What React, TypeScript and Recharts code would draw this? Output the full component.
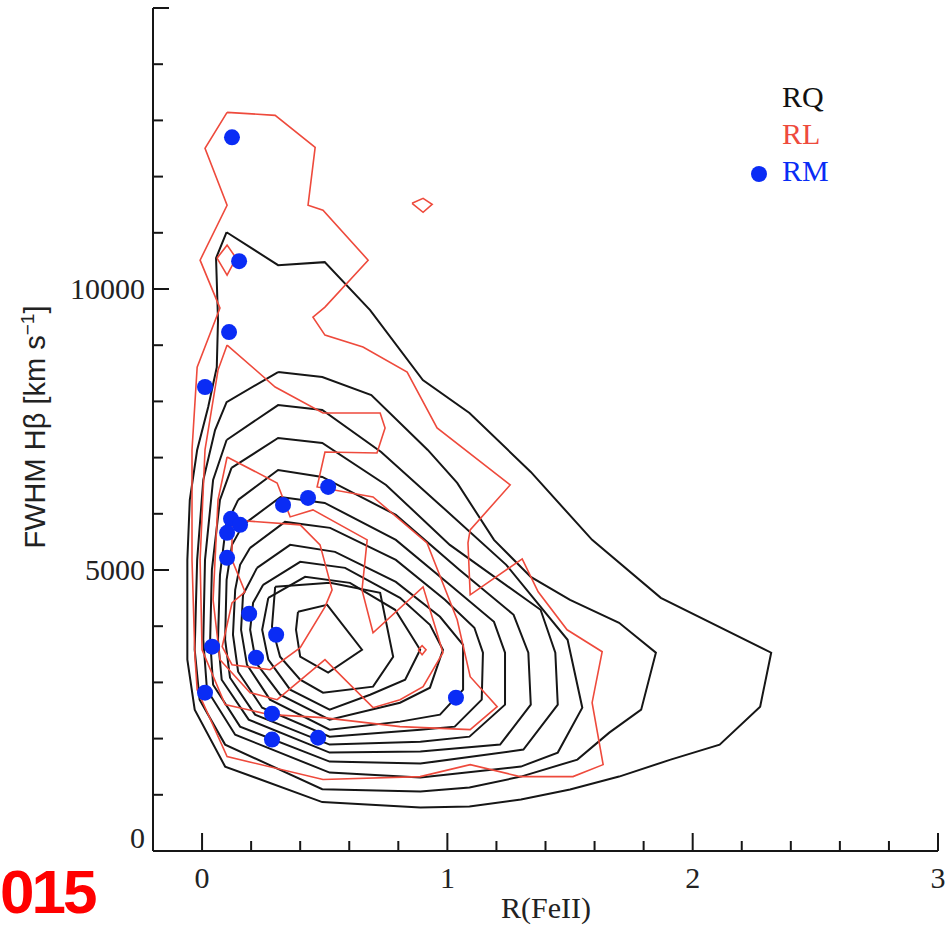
import { ScatterChart, Scatter, XAxis, YAxis } from 'recharts'

// tick positions
const xTicks = [0, 0.2, 0.4, 0.6, 0.8, 1, 1.2, 1.4, 1.6, 1.8, 2, 2.2, 2.4, 2.6, 2.8, 3]
const yTicks = [0, 1000, 2000, 3000, 4000, 5000, 6000, 7000, 8000, 9000, 10000, 11000, 12000, 13000, 14000, 15000]

// RQ density contours, outermost first: [R(FeII), FWHM]
const rq1 = [[0.10,11010],[0.31,10424],[0.50,10478],[0.685,9624],[0.90,8380],[1.09,7793],[1.34,6745],[1.59,5536],[1.87,4505],[2.32,3528],[2.275,2568],[2.11,1893],[1.91,1626],[1.70,1324],[1.50,1093],[1.30,915],[1.09,791],[0.89,773],[0.49,870],[0.094,1502],[-0.03,2515],[-0.06,3404],[-0.06,5180],[-0.05,6247],[-0.02,7136],[0.025,7900],[0.06,8610],[0.065,9447],[0.057,10550],[0.10,11010]]
const rq2 = [[0.31,8522],[0.49,8433],[0.69,8113],[0.92,7136],[1.04,6549],[1.19,5536],[1.34,4878],[1.50,4469],[1.70,4060],[1.85,3528],[1.79,2515],[1.66,2106],[1.53,1626],[1.30,1324],[1.09,1129],[0.89,1057],[0.49,1100],[0.094,1893],[-0.01,2693],[-0.03,3581],[-0.02,5180],[0.005,6602],[0.053,7491],[0.10,7988],[0.31,8522]]
const rq3 = [[0.10,7314],[0.31,7935],[0.49,7846],[0.73,7100],[0.97,6158],[1.24,5092],[1.49,3759],[1.55,2550],[1.45,1751],[1.30,1502],[0.89,1306],[0.52,1395],[0.135,2070],[0.02,2870],[0.005,3759],[0.012,5180],[0.045,6602],[0.10,7314]]
const rq4 = [[0.12,6816],[0.31,7349],[0.49,7260],[0.75,6513],[1.01,5447],[1.38,4292],[1.44,3528],[1.45,2604],[1.31,1804],[0.89,1555],[0.52,1591],[0.155,2213],[0.045,2959],[0.033,3759],[0.04,5002],[0.073,6247],[0.12,6816]]
const rq5 = [[0.147,6247],[0.31,6780],[0.49,6656],[0.79,5980],[1.05,5002],[1.27,4203],[1.33,3528],[1.34,2604],[1.215,1893],[0.89,1769],[0.52,1751],[0.19,2337],[0.08,3048],[0.065,3759],[0.073,4914],[0.098,5803],[0.147,6247]]
const rq6 = [[0.167,5803],[0.32,6300],[0.50,6194],[0.79,5536],[1.01,4736],[1.19,4078],[1.235,3528],[1.235,2604],[1.09,2035],[0.89,1946],[0.52,1893],[0.216,2426],[0.114,3083],[0.094,3759],[0.10,4825],[0.122,5447],[0.167,5803]]
const rq7 = [[0.196,5394],[0.338,5856],[0.522,5750],[0.79,5180],[0.99,4469],[1.11,3972],[1.145,3528],[1.14,2693],[1.03,2213],[0.89,2159],[0.52,2035],[0.245,2550],[0.147,3190],[0.126,3848],[0.135,4647],[0.155,5092],[0.196,5394]]
const rq8 = [[0.224,5038],[0.359,5447],[0.542,5323],[0.79,4789],[0.97,4167],[1.064,3670],[1.064,2870],[0.97,2426],[0.807,2302],[0.52,2159],[0.277,2693],[0.183,3315],[0.159,3936],[0.167,4558],[0.224,5038]]
const rq9 = [[0.249,4736],[0.40,5145],[0.583,5038],[0.807,4505],[0.929,4025],[0.982,3581],[0.929,2906],[0.807,2639],[0.52,2337],[0.318,2781],[0.22,3350],[0.196,3936],[0.208,4416],[0.249,4736]]
const rq10 = [[0.27,4505],[0.42,4878],[0.603,4771],[0.787,4292],[0.889,3581],[0.828,3048],[0.685,2781],[0.52,2515],[0.359,2870],[0.27,3404],[0.245,3936],[0.27,4505]]
const rq11 = [[0.298,4701],[0.522,4772],[0.726,4594],[0.779,3457],[0.697,2924],[0.493,2817],[0.40,3048],[0.318,3457],[0.285,3990],[0.298,4701]]
const rq12 = [[0.391,4256],[0.51,4380],[0.652,3581],[0.514,3173],[0.40,3457],[0.383,3936],[0.391,4256]]

// RL density contours
const rl1 = [[0.102,13143],[0.298,13090],[0.461,12521],[0.432,11490],[0.493,11401],[0.677,10513],[0.501,9677],[0.452,9500],[0.501,9180],[0.656,8967],[0.836,8522],[0.958,7527],[1.256,6513],[1.093,5713],[1.084,5482],[1.093,4558],[1.305,5198],[1.37,4612],[1.488,3936],[1.631,3546],[1.59,2639],[1.635,1537],[1.512,1324],[1.296,1324],[1.093,1537],[0.889,1324],[0.493,1271],[0.102,1680],[-0.02,2870],[-0.029,3457],[-0.041,5180],[-0.041,7136],[-0.02,8610],[0.073,9660],[-0.008,10513],[0.102,11490],[0.012,12503],[0.102,13143]]
const rl2 = [[0.102,9002],[0.298,8256],[0.493,7793],[0.726,7793],[0.746,7527],[0.713,7082],[0.501,7100],[0.469,6478],[0.697,6300],[0.917,5482],[1.04,4114],[1.093,3101],[1.203,2568],[1.093,2159],[0.807,2213],[0.493,2373],[0.277,2426],[0.094,2604],[0.0,3581],[-0.008,5180],[0.012,7136],[0.065,8557],[0.102,9002]]
const rl3 = [[0.102,7011],[0.306,6549],[0.359,5945],[0.452,6069],[0.673,5536],[0.652,4647],[0.697,3883],[0.901,4700],[0.982,3528],[0.901,2924],[0.807,2693],[0.697,2550],[0.501,3404],[0.306,2693],[0.196,2817],[0.073,3404],[0.045,4469],[0.065,6247],[0.102,7011]]
const rl4 = [[0.122,5891],[0.40,5803],[0.481,5447],[0.53,4647],[0.501,4345],[0.40,3617],[0.277,3226],[0.122,3315],[0.082,3635],[0.122,4416],[0.175,4612],[0.122,5180],[0.122,5891]]
const rlIsle1 = [[0.061,10549],[0.102,10780],[0.139,10549],[0.102,10247],[0.061,10549]]
const rlIsle2 = [[0.856,11525],[0.901,11614],[0.938,11507],[0.901,11365],[0.856,11525]]
const rlIsle3 = [[0.881,3581],[0.897,3653],[0.913,3581],[0.897,3493],[0.881,3581]]

// reverberation-mapped AGN
const rmX = [0.122, 0.151, 0.110, 0.012, 0.514, 0.432, 0.330, 0.118, 0.155, 0.102, 0.102, 0.192, 0.302, 0.041, 0.220, 0.012, 1.035, 0.285, 0.285, 0.473]
const rmY = [12699, 10495, 9233, 8256, 6478, 6283, 6158, 5910, 5803, 5661, 5216, 4221, 3848, 3635, 3439, 2817, 2728, 2444, 1982, 2017]

const rqLevels = [rq1, rq2, rq3, rq4, rq5, rq6, rq7, rq8, rq9, rq10, rq11, rq12]
const rlLevels = [rl1, rl2, rl3, rl4, rlIsle1, rlIsle2, rlIsle3]

const toPts = (arr: number[][]) => arr.map(([x, y]) => ({ x, y }))
const rmPts = rmX.map((x, i) => ({ x, y: rmY[i] }))

const BLACK = '#161616'
const RED = '#ee4a3c'
const BLUE = '#0a2cf5'
const SERIF = '"Liberation Serif", "DejaVu Serif", serif'
const SANS = '"Liberation Sans", Arial, sans-serif'

const noDot = () => <g />

function BottomTick({ x, y, payload }: any) {
  const v = payload.value
  const major = Math.abs(v - Math.round(v)) < 1e-6
  return (
    <g>
      <line x1={x} y1={y} x2={x} y2={y - (major ? 18 : 10)} stroke={BLACK} strokeWidth={2} />
      {major && (
        <text x={x} y={y + 37} textAnchor="middle" fontFamily={SERIF} fontSize={30} fill="#222">
          {v}
        </text>
      )}
    </g>
  )
}

function TopTick({ x, y, payload }: any) {
  const v = payload.value
  const major = Math.abs(v - Math.round(v)) < 1e-6
  return <line x1={x} y1={y} x2={x} y2={y + (major ? 17 : 9)} stroke={BLACK} strokeWidth={2} />
}

function LeftTick({ x, y, payload }: any) {
  const v = payload.value
  const major = v % 5000 === 0
  return (
    <g>
      <line x1={x} y1={y} x2={x + (major ? 16 : 10)} y2={y} stroke={BLACK} strokeWidth={2} />
      {major && v < 15000 && (
        <text x={x - 8} y={v === 0 ? y - 3 : y + 10} textAnchor="end" fontFamily={SERIF} fontSize={30} fill="#222">
          {v}
        </text>
      )}
    </g>
  )
}

function RightTick({ x, y, payload }: any) {
  const v = payload.value
  const major = v % 5000 === 0
  return <line x1={x} y1={y} x2={x - (major ? 16 : 10)} y2={y} stroke={BLACK} strokeWidth={2} />
}

export default function App() {
  const axisLine = { stroke: BLACK, strokeWidth: 2 }
  return (
    <div style={{ position: 'absolute', left: 0, top: 0, width: 948, height: 926, background: '#fff', overflow: 'hidden' }}>
      <ScatterChart width={948} height={926} margin={{ top: 8, right: 10, bottom: 0, left: 0 }}>
        <XAxis xAxisId="b" type="number" dataKey="x" domain={[-0.2, 3]} ticks={xTicks} allowDataOverflow
          orientation="bottom" height={75} tickSize={0} tickMargin={0} tickLine={false} axisLine={axisLine}
          tick={<BottomTick />} interval={0} />
        <XAxis xAxisId="t" type="number" dataKey="x" domain={[-0.2, 3]} ticks={xTicks} allowDataOverflow
          orientation="top" height={0} tickSize={0} tickMargin={0} tickLine={false} axisLine={axisLine}
          tick={<TopTick />} interval={0} />
        <YAxis yAxisId="l" type="number" dataKey="y" domain={[0, 15000]} ticks={yTicks} allowDataOverflow
          orientation="left" width={153} tickSize={0} tickMargin={0} tickLine={false} axisLine={axisLine}
          tick={<LeftTick />} interval={0} />
        <YAxis yAxisId="r" type="number" dataKey="y" domain={[0, 15000]} ticks={yTicks} allowDataOverflow
          orientation="right" width={0} tickSize={0} tickMargin={0} tickLine={false} axisLine={axisLine}
          tick={<RightTick />} interval={0} />
        {rqLevels.map((lvl, i) => (
          <Scatter key={'rq' + i} xAxisId="b" yAxisId="l" data={toPts(lvl)} shape={noDot}
            line={{ stroke: BLACK, strokeWidth: 2 }} lineType="joint" legendType="none" isAnimationActive={false} />
        ))}
        {rlLevels.map((lvl, i) => (
          <Scatter key={'rl' + i} xAxisId="b" yAxisId="l" data={toPts(lvl)} shape={noDot}
            line={{ stroke: RED, strokeWidth: 1.6 }} lineType="joint" legendType="none" isAnimationActive={false} />
        ))}
        <Scatter xAxisId="b" yAxisId="l" data={rmPts} fill={BLUE} legendType="none" isAnimationActive={false}
          shape={(p: any) => <circle cx={p.cx} cy={p.cy} r={8} fill={BLUE} />} />
      </ScatterChart>
      <svg width={948} height={926} style={{ position: 'absolute', left: 0, top: 0, pointerEvents: 'none' }}>
        <text x={782} y={107} fontFamily={SERIF} fontSize={30} fill="#111">RQ</text>
        <text x={782} y={144} fontFamily={SERIF} fontSize={30} fill={RED}>RL</text>
        <circle cx={759} cy={174} r={8} fill={BLUE} />
        <text x={782} y={181} fontFamily={SERIF} fontSize={30} fill={BLUE}>RM</text>
        <text x={546} y={918} textAnchor="middle" fontFamily={SERIF} fontSize={30} fill="#222">R(FeII)</text>
        <text transform="translate(45,427) rotate(-90)" textAnchor="middle" fontFamily={SANS} fontSize={29} fill="#222">
          FWHM Hβ [km s<tspan dy={-11} fontSize={19}>−1</tspan><tspan dy={11}>]</tspan>
        </text>
        <text x={0} y={913} fontFamily={SANS} fontWeight="bold" fontSize={62} letterSpacing={-3} fill="#ff0000">015</text>
      </svg>
    </div>
  )
}
